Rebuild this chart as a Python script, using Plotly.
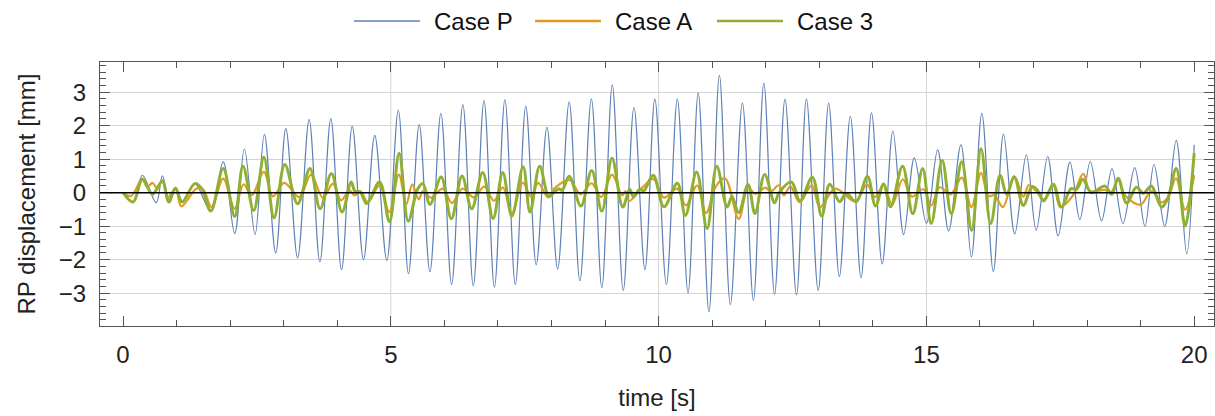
import plotly.graph_objects as go

# Reference-point displacement histories (extrema of each oscillation), time in s, displacement in mm
p_time = [0.0, 0.19, 0.36, 0.62, 0.735, 0.87, 0.98, 1.12, 1.34, 1.64, 1.87, 2.085, 2.266, 2.465, 2.639,
          2.851, 3.04, 3.26, 3.475, 3.675, 3.88, 4.08, 4.28, 4.49, 4.70, 4.925, 5.14, 5.33, 5.53, 5.73,
          5.935, 6.135, 6.345, 6.54, 6.74, 6.935, 7.13, 7.325, 7.52, 7.715, 7.915, 8.115, 8.33, 8.53,
          8.745, 8.94, 9.135, 9.34, 9.54, 9.745, 9.93, 10.145, 10.35, 10.55, 10.74, 10.94, 11.135,
          11.34, 11.565, 11.77, 11.965, 12.165, 12.36, 12.575, 12.76, 12.98, 13.175, 13.375, 13.58,
          13.78, 13.975, 14.175, 14.375, 14.575, 14.775, 15.0, 15.21, 15.415, 15.645, 15.84, 16.035,
          16.25, 16.44, 16.65, 16.865, 17.05, 17.265, 17.46, 17.68, 17.865, 18.06, 18.27, 18.465,
          18.67, 18.89, 19.08, 19.25, 19.45, 19.665, 19.86, 20.0]
p_disp = [0.0, -0.28, 0.52, -0.30, 0.50, -0.30, 0.14, -0.28, 0.27, -0.55, 0.92, -1.22, 1.31, -1.25, 1.74,
          -1.80, 1.91, -1.95, 2.18, -2.07, 2.21, -2.30, 1.98, -2.00, 1.71, -2.02, 2.46, -2.42, 2.03, -2.36,
          2.37, -2.74, 2.63, -2.78, 2.75, -2.82, 2.78, -2.74, 2.58, -2.15, 1.95, -2.28, 2.71, -2.63,
          2.80, -2.84, 3.22, -2.92, 2.55, -2.30, 2.80, -2.74, 2.80, -2.99, 2.98, -3.56, 3.50,
          -3.34, 2.67, -3.21, 3.27, -3.03, 2.79, -3.05, 2.80, -2.92, 2.67, -2.50, 2.28,
          -2.54, 2.38, -2.13, 1.84, -1.25, 1.04, -0.92, 1.28, -1.14, 1.43, -1.92, 2.37,
          -2.35, 1.75, -1.23, 1.13, -1.12, 1.08, -1.29, 0.91, -0.80, 0.93, -0.84, 0.71,
          -0.92, 0.75, -1.00, 0.84, -1.00, 1.56, -1.83, 1.43]

a_time = [0.0, 0.15, 0.36, 0.45, 0.55, 0.64, 0.735, 0.84, 0.98, 1.09, 1.37, 1.5, 1.65, 1.87, 2.085,
          2.25, 2.40, 2.63, 2.80, 3.01, 3.29, 3.51, 3.73, 3.92, 4.07, 4.23, 4.32, 4.43, 4.57, 4.79,
          4.97, 5.15, 5.29, 5.40, 5.52, 5.60, 5.75, 5.97, 6.14, 6.34, 6.55, 6.745, 6.925, 7.09, 7.26,
          7.465, 7.62, 7.75, 7.935, 8.05, 8.34, 8.54, 8.75, 8.93, 9.13, 9.32, 9.38, 9.45, 9.67, 9.71,
          9.90, 10.1, 10.345, 10.51, 10.72, 10.885, 11.07, 11.24, 11.495, 11.67, 11.80, 12.0, 12.09,
          12.24, 12.34, 12.46, 12.63, 12.86, 13.01, 13.3, 13.67, 13.89, 14.04, 14.2, 14.36, 14.56,
          14.73, 14.945, 15.09, 15.25, 15.45, 15.66, 15.84, 16.02, 16.16, 16.27, 16.43, 16.64, 16.81,
          16.91, 17.05, 17.19, 17.37, 17.5, 17.72, 17.93, 18.05, 18.2, 18.33, 18.45, 18.58, 18.72,
          19.0, 19.2, 19.39, 19.52, 19.66, 19.83, 20.0]
a_disp = [0.0, -0.10, 0.42, 0.17, 0.29, 0.12, 0.37, -0.13, 0.12, -0.41, 0.12, 0.08, -0.43, 0.42, -0.48,
          0.25, -0.08, 0.62, -0.11, 0.29, -0.13, 0.54, -0.15, 0.27, -0.23, 0.07, -0.08, 0.04, -0.28, 0.22,
          -0.58, 0.54, -0.34, 0.25, -0.20, 0.05, -0.15, 0.12, -0.31, 0.12, -0.14, 0.18, -0.24, 0.16, -0.61,
          0.30, -0.13, 0.29, -0.14, 0.12, 0.38, -0.05, 0.28, -0.13, 0.54, -0.08, 0.05, -0.25, 0.12, 0.17,
          0.41, -0.15, 0.12, -0.38, 0.22, -0.61, 0.19, 0.43, -0.78, 0.16, -0.03, 0.15, 0.02,
          0.22, -0.08, 0.19, -0.28, 0.22, -0.43, 0.12, -0.26, 0.24, -0.13, 0.22, -0.36, 0.40,
          -0.12, 0.10, -0.38, 0.16, -0.05, 0.45, -0.43, 0.59, -0.10, -0.08, -0.43, 0.49, -0.12,
          0.22, 0.05, -0.20, 0.22, -0.43, -0.12, 0.56, 0.05, 0.06, 0.08, 0.02, 0.37, -0.10,
          -0.36, 0.05, -0.29, -0.12, 0.43, -0.51, 0.52]

c3_time = [0.0, 0.19, 0.36, 0.55, 0.735, 0.85, 0.98, 1.10, 1.34, 1.47, 1.64, 1.87, 2.085, 2.24, 2.44,
           2.63, 2.82, 3.02, 3.26, 3.49, 3.68, 3.89, 4.09, 4.26, 4.33, 4.43, 4.55, 4.79, 4.975, 5.155,
           5.325, 5.5, 5.6, 5.73, 5.94, 6.13, 6.33, 6.51, 6.715, 6.91, 7.09, 7.26, 7.47, 7.60, 7.78,
           7.95, 8.05, 8.14, 8.20, 8.33, 8.55, 8.75, 8.94, 9.13, 9.33, 9.46, 9.53, 9.65, 9.72, 9.9,
           10.1, 10.35, 10.5, 10.71, 10.905, 11.085, 11.28, 11.37, 11.495, 11.67, 11.80, 11.98, 12.165,
           12.25, 12.48, 12.64, 12.87, 13.045, 13.195, 13.38, 13.5, 13.69, 13.9, 14.05, 14.2, 14.33,
           14.555, 14.745, 14.93, 15.09, 15.295, 15.465, 15.66, 15.845, 16.02, 16.20, 16.375, 16.5,
           16.64, 16.81, 16.97, 17.07, 17.19, 17.37, 17.52, 17.70, 17.8, 17.92, 18.08, 18.33, 18.46,
           18.58, 18.74, 18.92, 19.05, 19.2, 19.39, 19.5, 19.665, 19.83, 20.0]
c3_disp = [0.0, -0.28, 0.40, -0.04, 0.35, -0.28, 0.14, -0.28, 0.27, 0.12, -0.55, 0.72, -0.71, 0.79, -0.53,
           1.06, -0.75, 0.84, -0.33, 0.72, -0.48, 0.57, -0.58, 0.32, 0.05, 0.02, -0.33, 0.32, -0.87, 1.18,
           -0.85, 0.10, 0.27, -0.35, 0.47, -0.78, 0.50, -0.48, 0.60, -0.77, 0.60, -0.70, 0.77, -0.58, 0.79,
           -0.12, 0.02, 0.12, 0.07, 0.49, -0.40, 0.66, -0.55, 1.03, -0.43, 0.10, -0.12, 0.10, 0.05, 0.52,
           -0.42, 0.28, -0.68, 0.62, -1.07, 0.79, -0.43, -0.12, -0.60, 0.24, -0.62, 0.54, -0.30,
           0.0, 0.32, -0.25, 0.46, -0.70, 0.25, -0.27, -0.02, -0.27, 0.48, -0.40, 0.26, -0.42,
           0.79, -0.63, 0.72, -0.92, 0.96, -0.63, 0.92, -1.13, 1.31, -0.92, 0.52, -0.05,
           0.47, -0.38, 0.18, 0.08, -0.25, 0.25, -0.43, 0.12, 0.10, 0.40, 0.0, 0.20, -0.05,
           0.43, -0.31, 0.16, -0.02, 0.20, -0.43, -0.20, 0.72, -1.00, 1.18]

case_names = ["Case P", "Case A", "Case 3"]
case_colors = ["#5E81B5", "#E19C24", "#8FB032"]
case_widths = [1.2, 2.2, 3.0]
x_grid = [5, 10, 15]

FONT = "Liberation Sans, Arial, sans-serif"
FS = 24
FRAME = "#555555"
GRID = "#d4d4d4"

# plot-area geometry in pixels (used to place the hand-built legend row)
W, H = 1215, 416
ML, MR, MT, MB = 100, 1, 62, 90
PW, PH = W - ML - MR, H - MT - MB


def px_to_paper(px, py):
    return (px - ML) / PW, (H - MB - py) / PH


fig = go.Figure()
series = [(p_time, p_disp), (a_time, a_disp), (c3_time, c3_disp)]
for (t, d), name, col, lw in zip(series, case_names, case_colors, case_widths):
    fig.add_trace(go.Scatter(x=t, y=d, name=name, mode="lines", showlegend=False,
                             line=dict(color=col, width=lw, shape="spline", smoothing=1.0)))

shapes = [dict(type="line", xref="x", yref="paper", x0=g, x1=g, y0=0, y1=1,
               line=dict(color=GRID, width=1), layer="below") for g in x_grid]
# zero axis line drawn over the curves
shapes.append(dict(type="line", xref="paper", yref="y", x0=0, x1=1, y0=0, y1=0,
                   line=dict(color="#000000", width=1.5), layer="above"))

# legend row: long line samples followed by the case names
annotations = []
legend_line_x = [354, 535, 717]
legend_y = 21
for name, col, lx in zip(case_names, case_colors, legend_line_x):
    x0, yy = px_to_paper(lx, legend_y)
    x1, _ = px_to_paper(lx + 66, legend_y)
    xt, _ = px_to_paper(lx + 78, legend_y)
    shapes.append(dict(type="line", xref="paper", yref="paper", x0=x0, x1=x1, y0=yy, y1=yy,
                       line=dict(color=col, width=1.4 if name == "Case P" else 2.4)))
    annotations.append(dict(text=name, xref="paper", yref="paper", x=xt, y=yy,
                            xanchor="left", yanchor="middle", showarrow=False,
                            font=dict(size=FS, color="#111111")))

fig.update_layout(
    width=W, height=H,
    margin=dict(l=ML, r=MR, t=MT, b=MB),
    paper_bgcolor="white", plot_bgcolor="white",
    font=dict(family=FONT, size=FS, color="#222222"),
    shapes=shapes, annotations=annotations,
    showlegend=False,
    xaxis=dict(
        range=[-0.43, 20.37], tickvals=[0, 5, 10, 15, 20], showgrid=False, zeroline=False,
        ticks="inside", ticklen=10, tickcolor=FRAME, tickwidth=1,
        minor=dict(dtick=1, ticks="inside", ticklen=6, tickcolor=FRAME, showgrid=False),
        showline=True, linecolor=FRAME, linewidth=1, mirror="allticks",
        ticklabelstandoff=7,
        title=dict(text="time [s]", font=dict(size=FS), standoff=22),
    ),
    yaxis=dict(
        range=[-3.98, 3.9], tickvals=[-3, -2, -1, 0, 1, 2, 3], showgrid=True, gridcolor=GRID,
        gridwidth=1, zeroline=False,
        ticks="inside", ticklen=10, tickcolor=FRAME, tickwidth=1,
        minor=dict(dtick=0.2, tick0=0, ticks="inside", ticklen=6, tickcolor=FRAME, showgrid=False),
        showline=True, linecolor=FRAME, linewidth=1, mirror="allticks",
        ticklabelstandoff=8,
        title=dict(text="RP displacement [mm]", font=dict(size=FS), standoff=16),
    ),
)

fig.write_html("out.html")
